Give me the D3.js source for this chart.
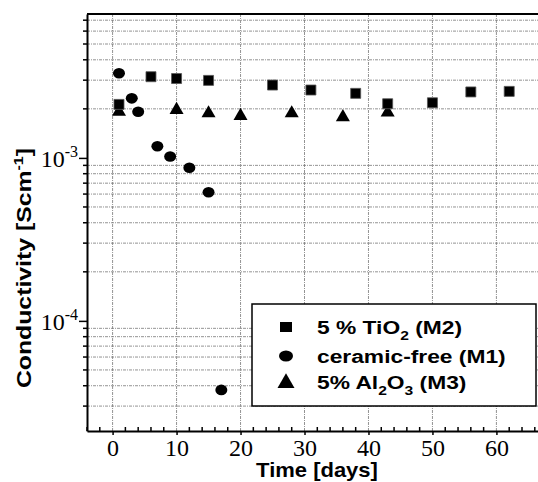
<!DOCTYPE html>
<html>
<head>
<meta charset="utf-8">
<script src="https://cdn.jsdelivr.net/npm/d3@7"></script>
<style>
  body { margin: 0; background: #fff; }
  .grid line { stroke: #777; stroke-width: 0.8; stroke-dasharray: 3,1,1,1; }
  .sans { font-family: "Liberation Sans", Arial, sans-serif; font-weight: bold; }
  .num { font-family: "Liberation Serif", "Times New Roman", serif; font-size: 24px; fill: #000; }
</style>
</head>
<body>
<div id="chart"></div>
<script>
// ---- data ----
var tio2_days = [1, 6, 10, 15, 25, 31, 38, 43, 50, 56, 62];
var tio2_cond = [2.13e-3, 3.15e-3, 3.07e-3, 2.99e-3, 2.80e-3, 2.61e-3, 2.49e-3, 2.15e-3, 2.18e-3, 2.54e-3, 2.56e-3];

var free_days = [1, 3, 4, 7, 9, 12, 15, 17];
var free_cond = [3.31e-3, 2.32e-3, 1.92e-3, 1.18e-3, 1.02e-3, 8.7e-4, 6.16e-4, 3.77e-5];

var al2o3_days = [1, 10, 15, 20, 28, 36, 43];
var al2o3_cond = [1.92e-3, 1.97e-3, 1.88e-3, 1.81e-3, 1.88e-3, 1.78e-3, 1.90e-3];

var x_ticks = [0, 10, 20, 30, 40, 50, 60];
var y_decades = [1e-4, 1e-3];

var W = 538, H = 482;
var pLeft = 87, pTop = 14, pBottom = 431, pRight = 538;

var svg = d3.select("#chart").append("svg")
	.attr("width", W)
	.attr("height", H);

var x = d3.scaleLinear().domain([-4, 66.5]).range([pLeft, pRight]);
var y = d3.scaleLog().domain([2.11e-5, 7.64e-3]).range([pBottom, pTop]);

// minor log values (2..9 x 10^k) inside the domain
var y_minor = [];
[-5, -4, -3].forEach(function(k) {
	for (var m = 2; m <= 9; m++) {
		var v = m * Math.pow(10, k);
		if (v >= y.domain()[0] && v <= y.domain()[1]) y_minor.push(v);
	}
});
var x_minor = d3.range(-4, 67, 2).filter(function(d) { return d % 10 !== 0; });

// grid
var grid = svg.append("g").attr("class", "grid");
grid.selectAll(".gy").data(y_minor).enter().append("line")
	.attr("x1", pLeft).attr("x2", pRight)
	.attr("y1", function(d) { return y(d); })
	.attr("y2", function(d) { return y(d); });
grid.selectAll(".gx").data(x_ticks).enter().append("line")
	.attr("y1", pTop).attr("y2", pBottom)
	.attr("x1", function(d) { return x(d); })
	.attr("x2", function(d) { return x(d); });

// x axis
var xAxis = svg.append("g")
	.attr("transform", "translate(0," + pBottom + ")")
	.call(d3.axisBottom(x).tickValues(x_ticks).tickSize(4).tickSizeOuter(0).tickPadding(4)
		.tickFormat(function(d) { return d; }));
xAxis.select(".domain").attr("stroke-width", 2);
xAxis.selectAll(".tick line").attr("stroke-width", 1.5);
xAxis.selectAll(".tick text").attr("class", "num");
svg.append("g").selectAll("line").data(x_minor).enter().append("line")
	.attr("x1", function(d) { return x(d); }).attr("x2", function(d) { return x(d); })
	.attr("y1", pBottom).attr("y2", pBottom - 4)
	.attr("stroke", "#000").attr("stroke-width", 1.5);

// y axis
var yAxis = svg.append("g")
	.attr("transform", "translate(" + pLeft + ",0)")
	.call(d3.axisLeft(y).tickValues(y_decades).tickSize(8).tickSizeOuter(0).tickFormat(""));
yAxis.select(".domain").attr("stroke-width", 2);
yAxis.selectAll(".tick line").attr("stroke-width", 1.5);
svg.append("g").selectAll("line").data(y_minor).enter().append("line")
	.attr("x1", pLeft).attr("x2", pLeft - 4)
	.attr("y1", function(d) { return y(d); }).attr("y2", function(d) { return y(d); })
	.attr("stroke", "#000").attr("stroke-width", 1.5);

var ylab = svg.append("g").selectAll("text").data(y_decades).enter().append("text")
	.attr("class", "num")
	.attr("text-anchor", "end")
	.attr("x", 78)
	.attr("y", function(d) { return y(d) + 9; });
ylab.append("tspan").text("10");
ylab.append("tspan").attr("dy", -10).style("font-size", "16px")
	.text(function(d) { return "-" + Math.round(-Math.log10(d)); });

// top frame line
svg.append("line")
	.attr("x1", pLeft).attr("x2", pRight).attr("y1", pTop).attr("y2", pTop)
	.attr("stroke", "#000").attr("stroke-width", 2);

// axis titles
svg.append("text")
	.attr("class", "sans")
	.attr("transform", "translate(317,477) scale(1.1,1)")
	.attr("text-anchor", "middle")
	.attr("font-size", 20)
	.text("Time [days]");

var yt = svg.append("text")
	.attr("class", "sans")
	.attr("transform", "translate(31,268) rotate(-90) scale(1.24,1)")
	.attr("text-anchor", "middle")
	.attr("font-size", 20);
yt.append("tspan").text("Conductivity [Scm");
yt.append("tspan").attr("dy", -8).attr("font-size", 13).text("-1");
yt.append("tspan").attr("dy", 8).text("]");

// markers
var square = d3.symbol().type(d3.symbolSquare).size(100);
var tri = d3.symbol().type(d3.symbolTriangle).size(85);

var tio2 = tio2_days.map(function(d, i) { return {t: d, c: tio2_cond[i]}; });
var free = free_days.map(function(d, i) { return {t: d, c: free_cond[i]}; });
var al2o3 = al2o3_days.map(function(d, i) { return {t: d, c: al2o3_cond[i]}; });

svg.append("g").selectAll("path").data(al2o3).enter().append("path")
	.attr("d", tri)
	.attr("transform", function(d) { return "translate(" + x(d.t) + "," + y(d.c) + ")"; })
	.attr("fill", "#000");

svg.append("g").selectAll("path").data(tio2).enter().append("path")
	.attr("d", square)
	.attr("transform", function(d) { return "translate(" + x(d.t) + "," + y(d.c) + ")"; })
	.attr("fill", "#000").attr("stroke", "#555").attr("stroke-width", 0.8);

svg.append("g").selectAll("ellipse").data(free).enter().append("ellipse")
	.attr("cx", function(d) { return x(d.t); })
	.attr("cy", function(d) { return y(d.c); })
	.attr("rx", 6).attr("ry", 5.3)
	.attr("fill", "#000");

// legend
var leg = svg.append("g");
leg.append("rect")
	.attr("x", 252).attr("y", 304).attr("width", 284).attr("height", 102)
	.attr("fill", "#fff").attr("stroke", "#000").attr("stroke-width", 1.5);
leg.append("rect").attr("x", 280).attr("y", 322).attr("width", 12).attr("height", 10).attr("fill", "#000");
leg.append("ellipse").attr("cx", 286).attr("cy", 356).attr("rx", 7).attr("ry", 5.5).attr("fill", "#000");
leg.append("path").attr("d", d3.symbol().type(d3.symbolTriangle).size(125))
	.attr("transform", "translate(286,383)").attr("fill", "#000");

var l1 = leg.append("text").attr("class", "sans").attr("transform", "translate(317,334) scale(1.2,1)").attr("font-size", 19);
l1.append("tspan").text("5 % TiO");
l1.append("tspan").attr("dy", 6).attr("font-size", 13).text("2");
l1.append("tspan").attr("dy", -6).text(" (M2)");

leg.append("text").attr("class", "sans").attr("transform", "translate(317,363) scale(1.2,1)").attr("font-size", 19)
	.text("ceramic-free (M1)");

var l3 = leg.append("text").attr("class", "sans").attr("transform", "translate(317,389) scale(1.2,1)").attr("font-size", 19);
l3.append("tspan").text("5% Al");
l3.append("tspan").attr("dy", 6).attr("font-size", 13).text("2");
l3.append("tspan").attr("dy", -6).text("O");
l3.append("tspan").attr("dy", 6).attr("font-size", 13).text("3");
l3.append("tspan").attr("dy", -6).text(" (M3)");
</script>
</body>
</html>
